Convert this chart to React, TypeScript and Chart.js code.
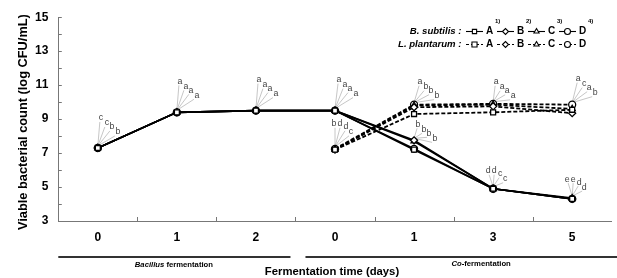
import { useEffect, useRef } from 'react';
import { Chart, registerables } from 'chart.js';
import { drawPoint } from 'chart.js/helpers';

Chart.register(...registerables);

// ---------- data ----------
const CATEGORIES = ['0', '1', '2', '0', '1', '3', '5'];
const Y_MIN = 3;
const Y_MAX = 15;

const BS_A = [7.3, 9.4, 9.5, 9.5, 7.2, 4.9, 4.3];
const BS_B = [7.3, 9.4, 9.5, 9.5, 7.75, 4.9, 4.3];
const BS_C = [7.3, 9.4, 9.5, 9.5, 7.7, 4.9, 4.35];
const BS_D = [7.3, 9.4, 9.5, 9.5, 7.25, 4.9, 4.3];

const LP_A = [null, null, null, 7.2, 9.3, 9.4, 9.55];
const LP_B = [null, null, null, 7.2, 9.7, 9.75, 9.35];
const LP_C = [null, null, null, 7.2, 9.8, 9.85, 9.6];
const LP_D = [null, null, null, 7.25, 9.85, 9.9, 9.85];

const SERIES_KEYS = ['A', 'B', 'C', 'D'];
const STRAIN_LABELS = ['B. subtilis :', 'L. plantarum :'];
const SUPERSCRIPTS = ['1)', '2)', '3)', '4)'];

// significance letters: strain (0 = B. subtilis, 1 = L. plantarum), category index, letters A..D
const LETTER_STRAIN = [0, 0, 0, 0, 1, 1, 0, 1, 0, 1, 0];
const LETTER_X = [0, 1, 2, 3, 3, 4, 4, 5, 5, 6, 6];
const LETTERS = [
  ['c', 'c', 'b', 'b'],
  ['a', 'a', 'a', 'a'],
  ['a', 'a', 'a', 'a'],
  ['a', 'a', 'a', 'a'],
  ['b', 'd', 'd', 'c'],
  ['a', 'b', 'b', 'b'],
  ['b', 'b', 'b', 'b'],
  ['a', 'a', 'a', 'a'],
  ['d', 'd', 'c', 'c'],
  ['a', 'c', 'a', 'b'],
  ['e', 'e', 'd', 'd'],
];

// ---------- layout / style (not data) ----------
const FONT = '"Liberation Sans", Arial, Helvetica, sans-serif';
const AXIS_COLOR = '#777';
const POINT_STYLES = ['rect', 'rectRot', 'triangle', 'circle'];
// two fan shapes: tall diagonal fan, and a flatter fan (first letters side by side)
const FANS = [
  { line: [[2, -27], [7, -22], [12, -18], [17, -13]], text: [[3, -31], [9, -26], [14, -22], [20, -17]] },
  { line: [[-4, -14], [1, -14], [6, -11], [10, -6]], text: [[-5, -18], [1, -18], [7, -15], [12, -10]] },
];
const FAN_KIND = [0, 0, 0, 0, 1, 0, 0, 0, 1, 0, 1];
const FAN_SHIFT = [[0, 1], [0, 0], [0, 0], [1, 0], [4, -7], [3, 8], [1, 15], [0, 9], [0, 0], [3, 5], [0, -1]];

const BS = [BS_A, BS_B, BS_C, BS_D];
const LP = [LP_A, LP_B, LP_C, LP_D];

function anchorValue(strain: number, x: number): number {
  const arr = strain === 0 ? BS : LP;
  let m = -Infinity;
  arr.forEach((s) => {
    const v = s[x];
    if (v != null && v > m) m = v;
  });
  return m;
}

const decorPlugin = {
  id: 'decor',
  beforeDatasetsDraw(chart: any) {
    const ctx = chart.ctx;
    const xs = chart.scales.x;
    const ys = chart.scales.y;
    ctx.save();
    ctx.font = `8.8px ${FONT}`;
    ctx.textAlign = 'center';
    ctx.textBaseline = 'middle';
    LETTERS.forEach((letters, g) => {
      const px = xs.getPixelForValue(LETTER_X[g]);
      const py = ys.getPixelForValue(anchorValue(LETTER_STRAIN[g], LETTER_X[g]));
      const [sx, sy] = FAN_SHIFT[g];
      const fan = FANS[FAN_KIND[g]];
      letters.forEach((l, i) => {
        ctx.strokeStyle = '#b8b8b8';
        ctx.lineWidth = 0.8;
        ctx.beginPath();
        ctx.moveTo(px, py - 2);
        ctx.lineTo(px + fan.line[i][0] + sx, py + fan.line[i][1] + sy);
        ctx.stroke();
        ctx.fillStyle = '#444';
        ctx.fillText(l, px + fan.text[i][0] + sx, py + fan.text[i][1] + sy);
      });
    });
    ctx.restore();
  },
  afterDraw(chart: any) {
    const ctx = chart.ctx;
    const xs = chart.scales.x;
    const ys = chart.scales.y;
    const area = chart.chartArea;
    ctx.save();
    ctx.strokeStyle = AXIS_COLOR;
    ctx.lineWidth = 1;
    for (let v = Y_MIN + 1; v <= Y_MAX; v++) {
      const y = Math.round(ys.getPixelForValue(v)) + 0.5;
      ctx.beginPath();
      ctx.moveTo(area.left, y);
      ctx.lineTo(area.left + 3.5, y);
      ctx.stroke();
    }
    for (let i = 0; i < CATEGORIES.length - 1; i++) {
      const x = Math.round((xs.getPixelForValue(i) + xs.getPixelForValue(i + 1)) / 2) + 0.5;
      ctx.beginPath();
      ctx.moveTo(x, area.bottom);
      ctx.lineTo(x, area.bottom - 4);
      ctx.stroke();
    }
    const boundary = (xs.getPixelForValue(2) + xs.getPixelForValue(3)) / 2;
    ctx.strokeStyle = '#333';
    ctx.lineWidth = 2;
    ctx.beginPath();
    ctx.moveTo(area.left, 257);
    ctx.lineTo(boundary - 5, 257);
    ctx.moveTo(boundary + 10, 257);
    ctx.lineTo(chart.width, 257);
    ctx.stroke();

    ctx.fillStyle = '#000';
    ctx.textBaseline = 'middle';
    ctx.textAlign = 'left';
    const drawMixed = (parts: [string, boolean][], cx: number, cy: number, size: number) => {
      let total = 0;
      parts.forEach(([t, it]) => {
        ctx.font = `${it ? 'italic ' : ''}bold ${size}px ${FONT}`;
        total += ctx.measureText(t).width;
      });
      let x = cx - total / 2;
      parts.forEach(([t, it]) => {
        ctx.font = `${it ? 'italic ' : ''}bold ${size}px ${FONT}`;
        ctx.fillText(t, x, cy);
        x += ctx.measureText(t).width;
      });
    };
    drawMixed([['Bacillus', true], [' fermentation', false]], xs.getPixelForValue(1) - 3, 265, 7.7);
    drawMixed([['Co', true], ['-fermentation', false]], xs.getPixelForValue(5) - 12, 264, 7.7);

    ctx.font = `bold 11.3px ${FONT}`;
    ctx.textAlign = 'center';
    ctx.fillText('Fermentation time (days)', xs.getPixelForValue(3) - 3, 272);

    ctx.save();
    ctx.translate(23, (area.top + area.bottom) / 2 + 3);
    ctx.rotate(-Math.PI / 2);
    ctx.font = `bold 12.8px ${FONT}`;
    ctx.textAlign = 'center';
    ctx.textBaseline = 'middle';
    ctx.fillText('Viable bacterial count (log CFU/mL)', 0, 0);
    ctx.restore();

    const rowsY = [31.5, 44.5];
    STRAIN_LABELS.forEach((label, r) => {
      const y = rowsY[r];
      ctx.font = `italic bold 9.6px ${FONT}`;
      ctx.textAlign = 'right';
      ctx.textBaseline = 'middle';
      ctx.fillStyle = '#000';
      ctx.fillText(label, 461.5, y);
      SERIES_KEYS.forEach((key, k) => {
        const lx = 486 + 31 * k;
        ctx.strokeStyle = '#000';
        ctx.lineWidth = 1.1;
        ctx.setLineDash(r === 1 ? [3, 2] : []);
        ctx.beginPath();
        ctx.moveTo(lx - 20, y);
        ctx.lineTo(lx - 3, y);
        ctx.stroke();
        ctx.setLineDash([]);
        ctx.fillStyle = '#fff';
        ctx.strokeStyle = '#000';
        drawPoint(ctx, { pointStyle: POINT_STYLES[k], radius: r === 1 && k === 0 ? 3.6 : 3, rotation: 0, borderWidth: k === 1 && r === 0 ? 1.6 : 1 } as any, lx - 11.5, y);
        ctx.fillStyle = '#000';
        ctx.font = `bold 10px ${FONT}`;
        ctx.textAlign = 'left';
        ctx.fillText(key, lx, y);
        if (r === 0) {
          ctx.font = `bold 6px ${FONT}`;
          ctx.fillText(SUPERSCRIPTS[k], lx + 9, y - 10);
        }
      });
    });
    ctx.restore();
  },
};

export default function App() {
  const ref = useRef<HTMLCanvasElement | null>(null);

  useEffect(() => {
    const canvas = ref.current;
    if (!canvas) return;
    const mk = (label: string, data: (number | null)[], k: number, dashed: boolean) => ({
      label,
      data,
      borderColor: '#000',
      borderWidth: dashed ? 1.8 : 1.7,
      borderDash: dashed ? [4, 2] : [],
      pointStyle: POINT_STYLES[k],
      pointRadius: 3.5,
      pointBorderWidth: 1.3,
      pointBackgroundColor: '#fff',
      pointBorderColor: '#000',
      fill: false,
      tension: 0,
      spanGaps: false,
    });
    const datasets = [
      ...LP.map((d, k) => mk(`L. plantarum ${SERIES_KEYS[k]}`, d, k, true)),
      ...BS.map((d, k) => mk(`B. subtilis ${SERIES_KEYS[k]}`, d, k, false)),
    ];
    const chart = new Chart(canvas, {
      type: 'line',
      data: { labels: CATEGORIES, datasets },
      options: {
        responsive: false,
        animation: false,
        devicePixelRatio: 1,
        layout: { padding: { top: 15, left: 0, right: 0, bottom: 0 } },
        plugins: { legend: { display: false }, tooltip: { enabled: false } },
        scales: {
          x: {
            type: 'category',
            offset: true,
            grid: { display: false, drawTicks: false },
            border: { display: true, color: AXIS_COLOR, width: 1 },
            ticks: { font: { family: FONT, size: 12, weight: 'bold' }, color: '#000', padding: 9, maxRotation: 0, autoSkip: false },
            afterFit: (s: any) => { s.height = 57; },
          },
          y: {
            min: Y_MIN,
            max: Y_MAX,
            grid: { display: false, drawTicks: false },
            border: { display: true, color: AXIS_COLOR, width: 1 },
            ticks: {
              stepSize: 1,
              autoSkip: false,
              padding: 10,
              color: '#000',
              font: { family: FONT, size: 12, weight: 'bold' },
              callback: (v: any) => (Number(v) % 2 === 1 ? String(v) : ''),
            },
            afterFit: (s: any) => { s.width = 58.3; },
          },
        },
      },
      plugins: [decorPlugin],
    } as any);
    return () => chart.destroy();
  }, []);

  return (
    <div style={{ position: 'fixed', left: 0, top: 0, width: 617, height: 278, background: '#fff' }}>
      <canvas ref={ref} width={617} height={278} style={{ display: 'block', width: 617, height: 278 }} />
    </div>
  );
}
